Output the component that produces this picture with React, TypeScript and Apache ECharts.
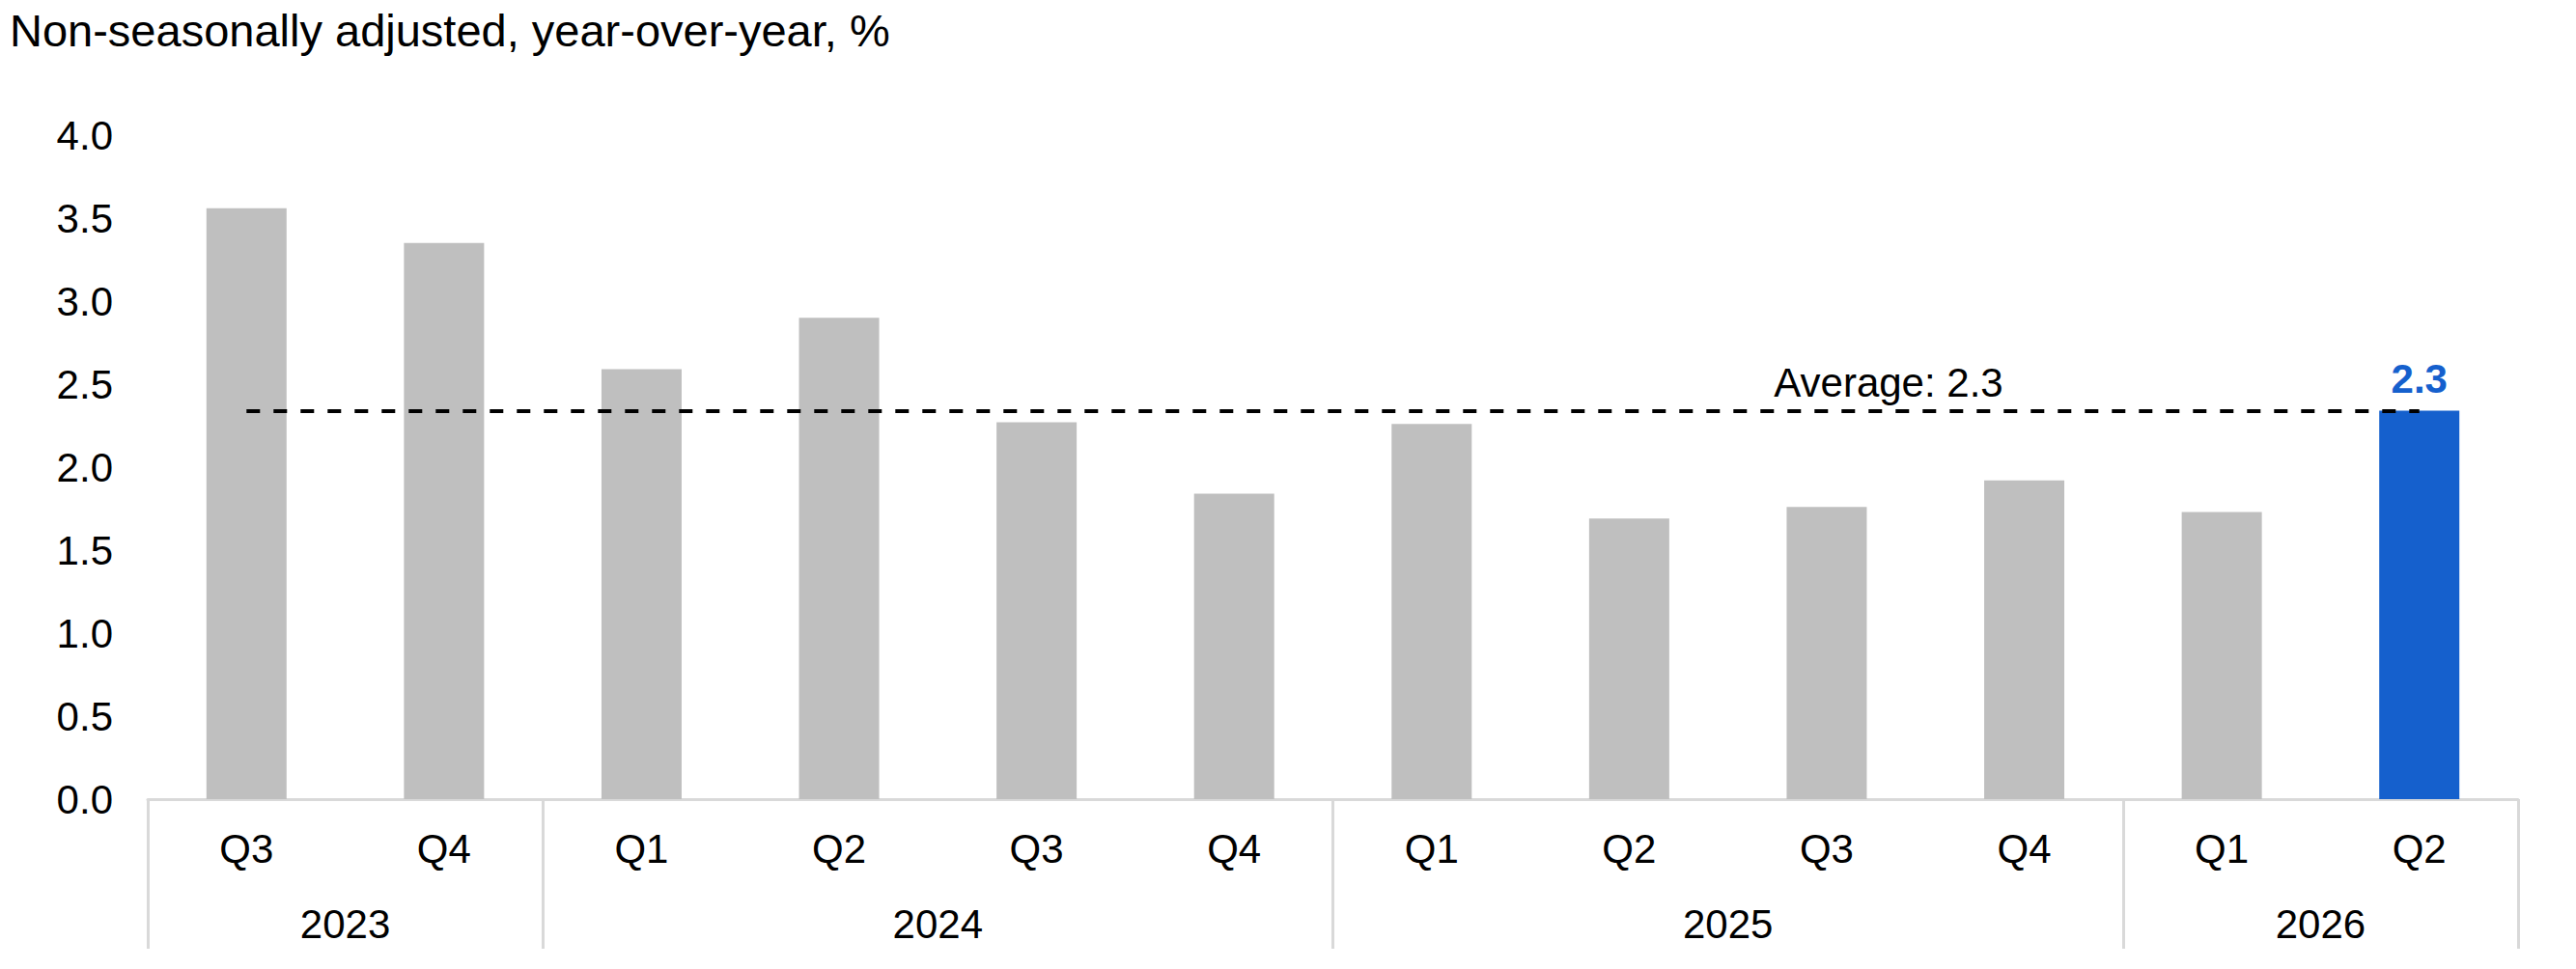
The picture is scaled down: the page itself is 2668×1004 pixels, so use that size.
import React, { useEffect, useRef } from 'react';
import * as echarts from 'echarts';

const titleText = 'Non-seasonally adjusted, year-over-year, %';
const years = ['2023', '2024', '2025', '2026'];
const quartersPerYear = [2, 4, 4, 2];
const quarters = ['Q3', 'Q4', 'Q1', 'Q2', 'Q3', 'Q4', 'Q1', 'Q2', 'Q3', 'Q4', 'Q1', 'Q2'];
const values = [3.56, 3.35, 2.59, 2.9, 2.27, 1.84, 2.26, 1.69, 1.76, 1.92, 1.73, 2.34];
const averageValue = 2.34;
const highlightIndex = 11;

const FONT = '"Liberation Sans", Arial, Helvetica, sans-serif';
const GRAY = '#bfbfbf';
const BLUE = '#1560cd';
const LINE = '#d9d9d9';

// unique category keys, e.g. "2023 Q3"
const yearOfQuarter: string[] = [];
years.forEach((y, i) => {
  for (let k = 0; k < quartersPerYear[i]; k++) yearOfQuarter.push(y);
});
const categoryKeys = quarters.map((q, i) => `${yearOfQuarter[i]} ${q}`);

// year axis: half-quarter slots so both group edges and group centres land on a slot
const slotCount = quarters.length * 2 + 1;
const slotKeys = Array.from({ length: slotCount }, (_, i) => `s${i}`);
const boundarySlots: number[] = [0];
const yearAtSlot: Record<number, string> = {};
let acc = 0;
years.forEach((y, i) => {
  const start = acc;
  acc += quartersPerYear[i] * 2;
  yearAtSlot[(start + acc) / 2] = y;
  boundarySlots.push(acc);
});

const App: React.FC = () => {
  const chartRef = useRef<HTMLDivElement>(null);

  useEffect(() => {
    const chart = echarts.init(chartRef.current!, undefined, { renderer: 'svg' });

    const options = {
      animation: false,
      title: {
        text: titleText,
        left: 10,
        top: 8,
        padding: 0,
        textStyle: { fontFamily: FONT, fontSize: 47, fontWeight: 'normal', color: '#000' }
      },
      grid: { left: 153, right: 60, top: 140, bottom: 176, containLabel: false },
      xAxis: [
        {
          type: 'category',
          data: categoryKeys,
          position: 'bottom',
          axisLine: { show: true, lineStyle: { color: LINE, width: 3 } },
          axisTick: { show: false },
          axisLabel: {
            margin: 30,
            fontFamily: FONT,
            fontSize: 42,
            color: '#000',
            formatter: (v: string) => v.split(' ')[1]
          }
        },
        {
          type: 'category',
          data: slotKeys,
          position: 'bottom',
          boundaryGap: false,
          axisLine: { show: false },
          axisTick: {
            show: true,
            length: 155,
            interval: (i: number) => boundarySlots.includes(i),
            lineStyle: { color: LINE, width: 3 }
          },
          axisLabel: {
            margin: 108,
            fontFamily: FONT,
            fontSize: 42,
            color: '#000',
            interval: (i: number) => yearAtSlot[i] !== undefined,
            formatter: (_v: string, i: number) => yearAtSlot[i] ?? ''
          }
        }
      ],
      yAxis: {
        type: 'value',
        min: 0,
        max: 4,
        interval: 0.5,
        axisLine: { show: false },
        axisTick: { show: false },
        splitLine: { show: false },
        axisLabel: {
          margin: 36,
          fontFamily: FONT,
          fontSize: 42,
          color: '#000',
          formatter: (v: number) => v.toFixed(1)
        }
      },
      series: [
        {
          type: 'bar',
          xAxisIndex: 0,
          barWidth: 83,
          itemStyle: { color: GRAY },
          data: values.map((v, i) =>
            i === highlightIndex
              ? {
                  value: v,
                  itemStyle: { color: BLUE },
                  label: {
                    show: true,
                    position: 'top',
                    distance: 12,
                    fontFamily: FONT,
                    fontSize: 42,
                    fontWeight: 'bold',
                    color: BLUE,
                    formatter: (p: any) => p.value.toFixed(1)
                  }
                }
              : v
          ),
          markLine: {
            silent: true,
            symbol: 'none',
            lineStyle: { color: '#000', width: 4, type: [14, 14] },
            label: {
              show: true,
              position: 'insideEndTop',
              distance: [431, 8],
              fontFamily: FONT,
              fontSize: 42,
              color: '#000',
              formatter: () => `Average: ${averageValue.toFixed(1)}`
            },
            data: [[{ coord: [0, averageValue] }, { coord: [quarters.length - 1, averageValue] }]]
          }
        }
      ]
    };

    chart.setOption(options);

    return () => {
      chart.dispose();
    };
  }, []);

  return (
    <div
      ref={chartRef}
      style={{ position: 'fixed', left: 0, top: 0, width: '2668px', height: '1004px', background: '#fff' }}
    ></div>
  );
};

export default App;
